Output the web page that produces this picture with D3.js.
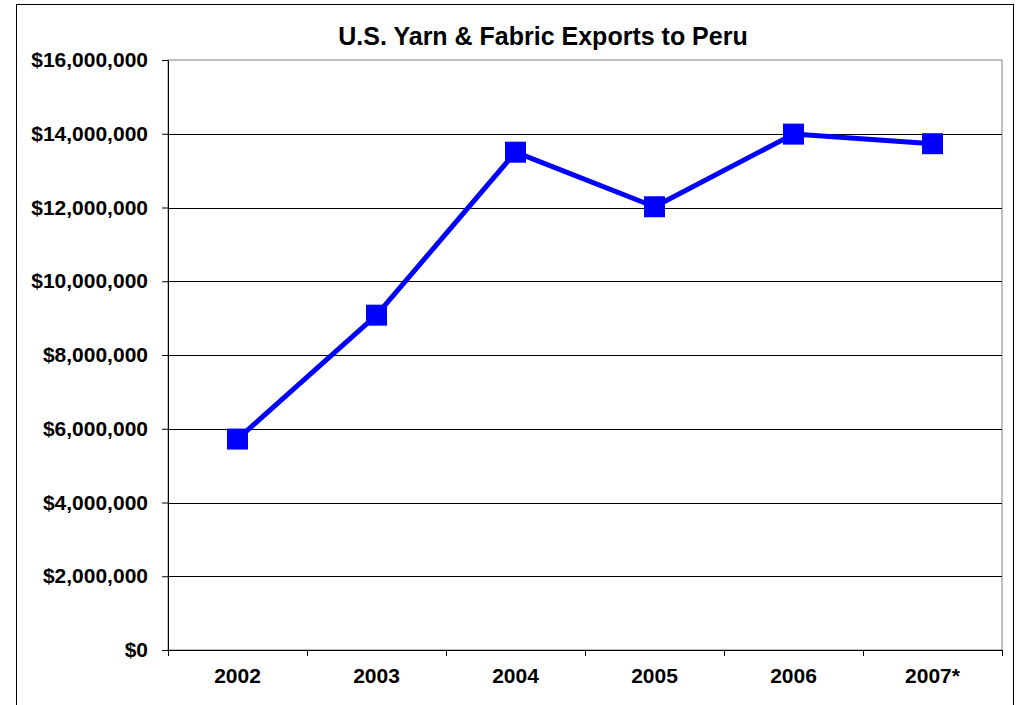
<!DOCTYPE html>
<html>
<head>
<meta charset="utf-8">
<script src="https://cdn.jsdelivr.net/npm/d3@7"></script>
<style>
  body { margin: 0; background: #fff; }
  svg text { font-family: "Liberation Sans", Arial, sans-serif; font-weight: bold; fill: #000; }
</style>
</head>
<body>
<div id="chart"></div>
<script>
const years = ["2002", "2003", "2004", "2005", "2006", "2007*"];
const exportsUSD = [5720000, 9080000, 13500000, 12020000, 13990000, 13730000];
const yTicks = [0, 2000000, 4000000, 6000000, 8000000, 10000000, 12000000, 14000000, 16000000];

const W = 1025, H = 705;
const margin = {top: 60, right: 23, bottom: 55, left: 168};
const width = W - margin.left - margin.right,
    height = H - margin.top - margin.bottom;

const svg = d3.select("#chart").append("svg").attr("width", W).attr("height", H);

// outer chart frame (bottom edge runs off the page)
svg.append("rect").attr("x", 16.5).attr("y", 4.5).attr("width", 997).attr("height", 720)
  .attr("fill", "none").attr("stroke", "#000").attr("stroke-width", 1);

svg.append("text").attr("x", 543).attr("y", 45).attr("text-anchor", "middle")
  .style("font-size", "25px").text("U.S. Yarn & Fabric Exports to Peru");

const g = svg.append("g").attr("transform", `translate(${margin.left},${margin.top})`);

const x = d3.scaleBand().domain(years).range([0, width]);
const y = d3.scaleLinear().domain([0, 16000000]).range([height, 0]);

// plot area border
g.append("rect").attr("x", 0).attr("y", 0).attr("width", width).attr("height", height)
  .attr("fill", "none").attr("stroke", "#808080").attr("stroke-width", 1);

// gridlines
g.selectAll(".grid").data(yTicks.slice(1, -1)).enter().append("line")
  .attr("class", "grid")
  .attr("x1", 0).attr("x2", width)
  .attr("y1", d => Math.round(y(d)) + 0.5).attr("y2", d => Math.round(y(d)) + 0.5)
  .attr("stroke", "#000").attr("stroke-width", 1);

const fmt = d => "$" + d3.format(",")(d);
const yAxis = d3.axisLeft(y).tickValues(yTicks).tickFormat(fmt).tickSize(6).tickPadding(14);
g.append("g").attr("class", "yaxis").call(yAxis);

const xAxis = d3.axisBottom(x).tickSize(0).tickPadding(18);
const xg = g.append("g").attr("class", "xaxis").attr("transform", `translate(0,${height})`).call(xAxis);

// category boundary ticks
const bounds = years.map(d => x(d)).concat([width]);
xg.selectAll(".bound").data(bounds).enter().append("line")
  .attr("class", "bound")
  .attr("x1", d => Math.round(d) + 0.5).attr("x2", d => Math.round(d) + 0.5)
  .attr("y1", 0).attr("y2", 6).attr("stroke", "#000");

svg.selectAll(".yaxis path, .xaxis path").attr("stroke", "#000");
svg.selectAll(".yaxis line").attr("stroke", "#000");
svg.selectAll(".yaxis text, .xaxis text").style("font-size", "21px")
  .style("font-family", '"Liberation Sans", Arial, sans-serif').style("font-weight", "bold");

const data = years.map((d, i) => ({year: d, value: exportsUSD[i]}));
const cx = d => x(d.year) + x.bandwidth() / 2;

g.append("path").datum(data)
  .attr("d", d3.line().x(cx).y(d => y(d.value)))
  .attr("fill", "none").attr("stroke", "#0000ff").attr("stroke-width", 5)
  .attr("stroke-linejoin", "round");

const ms = 21;
g.selectAll(".marker").data(data).enter().append("rect")
  .attr("class", "marker")
  .attr("x", d => cx(d) - ms / 2).attr("y", d => y(d.value) - ms / 2)
  .attr("width", ms).attr("height", ms)
  .attr("fill", "#0000ff");
</script>
</body>
</html>
